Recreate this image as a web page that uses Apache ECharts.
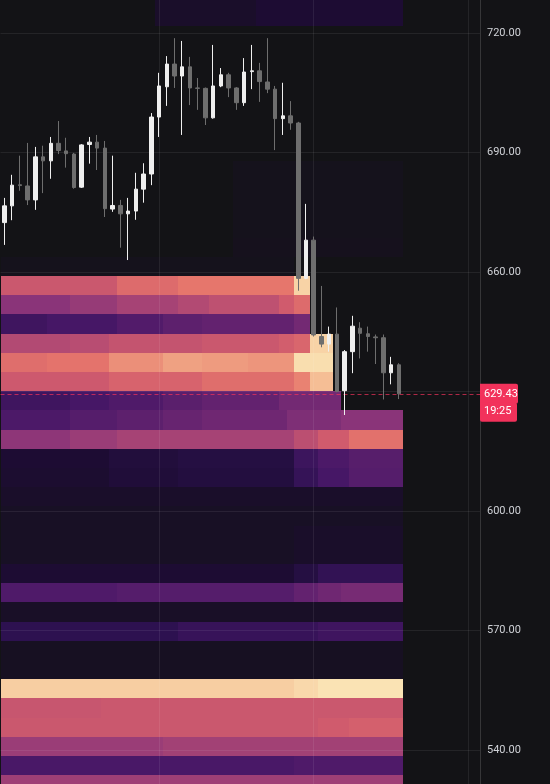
<!DOCTYPE html>
<html>
<head>
<meta charset="utf-8">
<script src="https://cdn.jsdelivr.net/npm/echarts@6/dist/echarts.min.js"></script>
<style>
html,body{margin:0;padding:0;background:#131316;}
#main{width:550px;height:784px;}
</style>
</head>
<body>
<div id="main"></div>
<script>
// ---- data ----
const slots = Array.from({length: 62}, (_, i) => i); // time slots (52 candles + empty space)
// [open, close, low, high]
const ohlc = [
 [672.4, 676.6, 666.8, 678.6],
 [676.6, 681.8, 673.0, 684.4],
 [681.9, 681.7, 680.4, 689.2],
 [681.6, 678.1, 676.8, 692.4],
 [678.1, 688.9, 675.6, 691.4],
 [688.9, 687.9, 679.8, 691.7],
 [687.9, 692.3, 683.4, 693.9],
 [692.3, 690.5, 689.6, 697.9],
 [690.4, 689.7, 686.2, 693.7],
 [689.6, 681.2, 680.9, 689.9],
 [681.3, 691.9, 681.1, 692.1],
 [692.0, 692.6, 687.2, 693.9],
 [692.6, 691.1, 685.6, 694.4],
 [691.1, 675.9, 673.8, 692.9],
 [675.8, 676.7, 675.1, 689.2],
 [676.7, 674.6, 666.1, 678.1],
 [674.6, 675.3, 663.0, 678.6],
 [675.3, 680.8, 673.1, 684.9],
 [680.8, 684.6, 677.4, 687.3],
 [684.6, 698.9, 681.8, 699.9],
 [698.9, 706.7, 693.9, 710.0],
 [706.5, 712.2, 701.7, 714.2],
 [712.2, 709.2, 706.2, 718.7],
 [709.2, 711.5, 694.4, 718.0],
 [711.5, 706.2, 701.9, 714.0],
 [706.2, 706.1, 700.7, 708.7],
 [706.1, 698.7, 696.9, 706.3],
 [698.7, 706.7, 698.5, 717.0],
 [706.7, 709.5, 706.4, 711.2],
 [709.5, 706.2, 703.9, 710.0],
 [706.2, 702.5, 700.7, 706.4],
 [702.5, 710.2, 701.7, 713.7],
 [710.3, 710.5, 705.9, 717.0],
 [710.5, 707.8, 702.7, 712.5],
 [707.7, 705.9, 704.9, 718.7],
 [705.9, 698.5, 690.6, 706.7],
 [698.5, 699.2, 694.4, 707.5],
 [699.2, 697.4, 695.7, 702.9],
 [697.4, 658.4, 655.3, 697.7],
 [658.4, 668.0, 658.2, 677.1],
 [668.0, 644.2, 643.8, 668.9],
 [643.8, 641.9, 641.1, 656.5],
 [641.9, 644.4, 640.0, 646.3],
 [644.4, 630.0, 629.8, 651.1],
 [630.2, 640.0, 624.1, 640.4],
 [640.0, 646.4, 634.6, 649.0],
 [645.9, 644.6, 638.3, 647.4],
 [644.5, 643.8, 640.0, 646.3],
 [643.7, 643.5, 636.9, 644.3],
 [643.5, 634.7, 628.0, 644.3],
 [634.7, 636.7, 631.8, 638.7],
 [636.7, 629.43, 628.1, 637.1]
];
const lastPrice = 629.43;
const countdown = '19:25';
const yRange = {min: 531.47, max: 728.28};
const yTickValues = [540, 570, 600, 630, 660, 690, 720];
const vGridSlots = [20, 40, 60];

// heatmap price bins (edges, top to bottom)
const heatEdges = [731.30, 726.48, 721.66, 716.84, 712.02, 707.20, 702.38, 697.56, 692.74, 687.92,
  683.10, 678.28, 673.46, 668.64, 663.82, 659.00, 654.18, 649.36, 644.54, 639.72,
  634.90, 630.08, 625.26, 620.44, 615.62, 610.80, 605.98, 601.16, 596.34, 591.52,
  586.70, 581.88, 577.06, 572.24, 567.42, 562.60, 557.78, 552.96, 548.14, 543.32,
  538.50, 533.68, 528.86];
// [binIndex, fromSlot, toSlot, intensity 0..1]
const heatCells = [
 [0,20,32,0.07],[0,33,51,0.1],[1,20,32,0.07],[1,33,51,0.1],
 [9,30,51,0.02],[10,30,51,0.02],[11,30,51,0.02],[12,30,51,0.02],[13,30,51,0.025],[14,0,37,0.02],
 [15,0,14,0.68],[15,15,22,0.76],[15,23,37,0.8],[15,38,39,0.96],
 [16,0,8,0.5],[16,9,14,0.53],[16,15,22,0.57],[16,23,26,0.6],[16,27,35,0.64],[16,36,37,0.7],[16,38,39,0.76],
 [17,0,5,0.27],[17,6,14,0.3],[17,15,20,0.34],[17,21,25,0.38],[17,26,37,0.4],[17,38,39,0.44],
 [18,0,8,0.6],[18,9,13,0.62],[18,14,25,0.66],[18,26,35,0.68],[18,36,37,0.71],[18,38,39,0.74],[18,40,42,0.96],
 [19,0,5,0.77],[19,6,13,0.79],[19,14,20,0.84],[19,21,25,0.87],[19,26,31,0.86],[19,32,37,0.85],[19,38,42,0.98],
 [20,0,13,0.69],[20,14,25,0.73],[20,26,37,0.77],[20,38,39,0.82],[20,40,42,0.92],
 [21,0,8,0.27],[21,9,13,0.3],[21,14,20,0.33],[21,21,25,0.37],[21,26,35,0.4],[21,36,43,0.44],
 [22,0,8,0.32],[22,9,14,0.35],[22,15,20,0.38],[22,21,25,0.41],[22,26,36,0.43],[22,37,43,0.47],[22,44,51,0.5],
 [23,0,8,0.51],[23,9,14,0.54],[23,15,37,0.57],[23,38,40,0.63],[23,41,44,0.7],[23,45,51,0.78],
 [24,0,13,0.1],[24,14,22,0.13],[24,23,37,0.15],[24,38,40,0.26],[24,41,44,0.32],[24,45,51,0.36],
 [25,0,13,0.09],[25,14,22,0.12],[25,23,37,0.14],[25,38,40,0.23],[25,41,44,0.3],[25,45,51,0.35],
 [26,0,51,0.07],
 [27,0,51,0.05],
 [28,0,37,0.05],[28,38,51,0.07],
 [29,0,37,0.05],[29,38,51,0.07],
 [30,0,37,0.1],[30,38,40,0.15],[30,41,51,0.22],
 [31,0,14,0.33],[31,15,37,0.35],[31,38,40,0.4],[31,41,43,0.43],[31,44,51,0.45],
 [32,0,51,0.06],
 [33,0,22,0.2],[33,23,40,0.24],[33,41,51,0.27],
 [34,0,51,0.04],
 [35,0,51,0.04],
 [36,0,37,0.95],[36,38,40,0.97],[36,41,51,0.99],
 [37,0,12,0.67],[37,13,51,0.68],
 [38,0,40,0.68],[38,41,44,0.7],[38,45,51,0.72],
 [39,0,20,0.54],[39,21,51,0.56],
 [40,0,37,0.31],[40,38,51,0.33],
 [41,0,51,0.55]
];
const heatPalette = ['#131316','#1d0c33','#2d1150','#461766','#63226f','#8a3479',
  '#b24a73','#d05b6d','#e6766c','#f3b48c','#fbe8b8'];

// ---- style ----
const BG = '#131316';
const UP = '#efefef', DOWN = '#6e6e6e';
const RED = '#f2325b';
const GRID_RIGHT = 70;
const FONT = 'Roboto';
const GRID_COLOR = 'rgba(255,255,255,0.075)';

const chart = echarts.init(document.getElementById('main'), null, {renderer: 'canvas'});

const option = {
  backgroundColor: BG,
  animation: false,
  grid: {left: 0.5, right: GRID_RIGHT, top: 0, bottom: 0},
  xAxis: {
    type: 'category', data: slots, boundaryGap: true, show: false
  },
  yAxis: {
    type: 'value', position: 'right', min: yRange.min, max: yRange.max,
    z: 2,
    axisLine: {show: true, lineStyle: {color: 'rgba(255,255,255,0.15)', width: 1}},
    axisTick: {show: false, customValues: yTickValues},
    splitLine: {show: false},
    axisLabel: {
      customValues: yTickValues,
      color: '#cfd1d6', fontFamily: FONT, fontSize: 11, margin: 7,
      formatter: v => Math.abs(v - lastPrice) < 8 ? '' : Number(v).toFixed(2)
    }
  },
  visualMap: {
    show: false, type: 'continuous', seriesIndex: 0, dimension: 3,
    min: 0, max: 1, inRange: {color: heatPalette}
  },
  series: [
    {
      type: 'custom',
      z: 1,
      data: heatCells,
      encode: {x: [1, 2], y: 0},
      renderItem(params, api) {
        const r = api.value(0), c0 = api.value(1), c1 = api.value(2);
        const half = api.size([1, 0])[0] / 2;
        const a = api.coord([c0, heatEdges[r]]);
        const b = api.coord([c1, heatEdges[r + 1]]);
        const x0 = Math.round(a[0] - half), x1 = Math.round(b[0] + half);
        const y0 = Math.round(a[1]), y1 = Math.round(b[1]);
        return {
          type: 'rect',
          shape: {x: x0, y: y0, width: x1 - x0, height: y1 - y0},
          style: {fill: api.visual('color')}
        };
      },
      markLine: {
        z: 2, silent: true, symbol: 'none', animation: false,
        label: {show: false},
        lineStyle: {color: GRID_COLOR, type: 'solid', width: 1},
        data: vGridSlots.map(s => ({xAxis: s})).concat(yTickValues.map(v => ({yAxis: v})))
      }
    },
    {
      type: 'candlestick',
      z: 3,
      data: ohlc,
      barWidth: 4,
      itemStyle: {color: UP, color0: DOWN, borderColor: UP, borderColor0: DOWN, borderWidth: 1},
      markLine: {
        z: 2.5, silent: true, symbol: 'none', animation: false,
        label: {show: false},
        lineStyle: {color: RED, opacity: 0.7, type: [4, 3], width: 1},
        data: [{yAxis: lastPrice}]
      }
    }
  ]
};
chart.setOption(option);

// price / countdown tag on the axis, positioned through the axis scale
const py = chart.convertToPixel({yAxisIndex: 0}, lastPrice);
const ax = chart.getWidth() - GRID_RIGHT;
chart.setOption({
  graphic: [
    {type: 'rect', z: 10, shape: {x: ax, y: py - 10, width: 38, height: 20, r: [0, 2, 2, 0]}, style: {fill: RED}},
    {type: 'rect', z: 10, shape: {x: ax, y: py + 9, width: 37, height: 19, r: [0, 2, 2, 2]}, style: {fill: RED}},
    {type: 'text', z: 11, style: {text: lastPrice.toFixed(2), x: ax + 4, y: py, verticalAlign: 'middle', fill: '#ffffff', font: '11px ' + FONT}},
    {type: 'text', z: 11, style: {text: countdown, x: ax + 4, y: py + 17, verticalAlign: 'middle', fill: '#ffffff', font: '11px ' + FONT}}
  ]
});
</script>
</body>
</html>
